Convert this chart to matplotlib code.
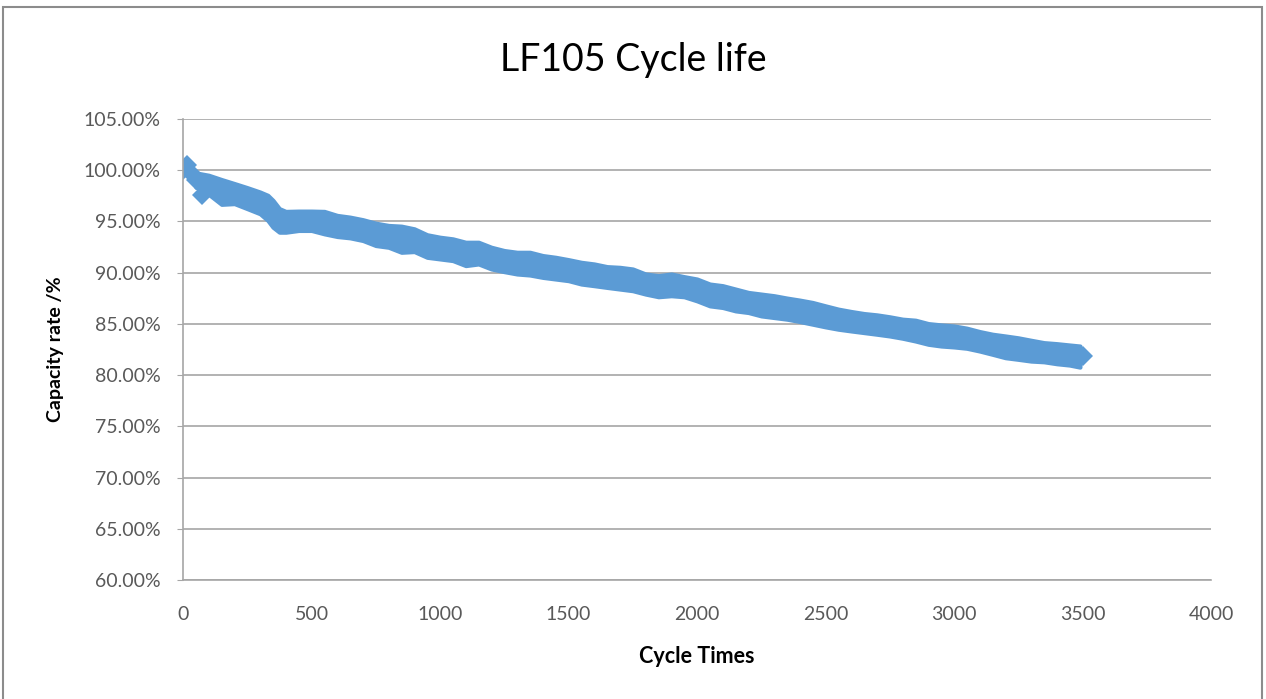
import numpy as np
import matplotlib.pyplot as plt
from matplotlib.patches import Rectangle
from matplotlib.ticker import FuncFormatter, MultipleLocator

plt.rcParams['font.family'] = ['Lato', 'DejaVu Sans']

cycles = [50, 100, 150, 200, 250, 300, 330, 350, 375, 400, 450, 500, 550, 600, 650,
          700, 750, 800, 850, 900, 950, 1000, 1050, 1100, 1150, 1200, 1250, 1300,
          1350, 1400, 1450, 1500, 1550, 1600, 1650, 1700, 1750, 1800, 1850, 1900,
          1950, 2000, 2050, 2100, 2150, 2200, 2250, 2300, 2350, 2400, 2450, 2500,
          2550, 2600, 2650, 2700, 2750, 2800, 2850, 2900, 2950, 3000, 3050, 3100,
          3150, 3200, 3250, 3300, 3350, 3400, 3450, 3490]
cap_upper = [99.74, 99.51, 99.09, 98.70, 98.30, 97.87, 97.55, 97.06, 96.25, 95.98,
             96.01, 96.01, 95.98, 95.59, 95.42, 95.17, 94.83, 94.61, 94.54, 94.28,
             93.70, 93.46, 93.30, 92.97, 92.97, 92.48, 92.16, 91.99, 91.99, 91.67,
             91.50, 91.27, 91.01, 90.85, 90.59, 90.52, 90.36, 89.87, 89.71, 89.87,
             89.61, 89.38, 88.89, 88.73, 88.40, 88.07, 87.91, 87.75, 87.52, 87.32,
             87.09, 86.76, 86.44, 86.21, 86.01, 85.88, 85.69, 85.46, 85.36, 85.03,
             84.90, 84.80, 84.58, 84.25, 83.99, 83.82, 83.64, 83.40, 83.17, 83.07,
             82.94, 82.84]
cap_lower = [98.36, 97.65, 96.67, 96.74, 96.25, 95.75, 95.10, 94.44, 93.95, 93.95,
             94.12, 94.12, 93.79, 93.53, 93.40, 93.14, 92.65, 92.48, 91.99, 92.06,
             91.50, 91.34, 91.18, 90.69, 90.85, 90.36, 90.10, 89.87, 89.77, 89.54,
             89.38, 89.22, 88.89, 88.73, 88.56, 88.40, 88.24, 87.91, 87.65, 87.75,
             87.65, 87.25, 86.76, 86.60, 86.27, 86.11, 85.78, 85.62, 85.46, 85.23,
             84.97, 84.71, 84.48, 84.31, 84.15, 83.99, 83.82, 83.60, 83.33, 83.01,
             82.84, 82.75, 82.62, 82.35, 82.03, 81.70, 81.54, 81.37, 81.30, 81.11,
             80.98, 80.78]

# single points that stand out of the band
pt_cycles = [0, 15, 30, 50, 74, 3500]
pt_cap = [100.0, 100.5, 99.7, 99.05, 97.6, 81.86]

blue = '#5b9bd5'

fig = plt.figure(figsize=(12.66, 6.99), dpi=100)
ax = fig.add_axes([183/1266, 1-580/699, (1211-183)/1266, (580-119)/699])

ax.fill_between(cycles, cap_lower, cap_upper, color=blue, ec=blue, lw=3)
ax.plot(pt_cycles, pt_cap, 'D', color=blue, ms=10, markeredgewidth=0)

ax.set_xlim(0, 4000)
ax.set_ylim(60, 105)
ax.xaxis.set_major_locator(MultipleLocator(500))
ax.yaxis.set_major_locator(MultipleLocator(5))
ax.yaxis.set_major_formatter(FuncFormatter(lambda v, p: '%.2f%%' % v))
ax.grid(axis='y', color='#a6a6a6', lw=1.2)
ax.set_axisbelow(True)

for s in ['top', 'right']:
    ax.spines[s].set_visible(False)
for s in ['left', 'bottom']:
    ax.spines[s].set_color('#a6a6a6')
    ax.spines[s].set_linewidth(1.2)

ax.tick_params(axis='y', length=4, color='#a6a6a6', pad=12, labelsize=14, labelcolor='#595959')
ax.tick_params(axis='x', length=0, pad=19, labelsize=14, labelcolor='#595959')

ax.set_xlabel('Cycle Times', fontsize=15.5, fontweight='bold', labelpad=16)
ax.set_ylabel('Capacity rate /%', fontsize=14, fontweight='bold', labelpad=14)
fig.text(0.5, 1-60/699, 'LF105 Cycle life', fontsize=27, ha='center', va='center')

fig.add_artist(Rectangle((3/1266, -0.01), 1259/1266, 1.01-7/699, transform=fig.transFigure,
                         fill=False, ec='#8c8c8c', lw=1.5))

plt.savefig('out.png', dpi=100)
